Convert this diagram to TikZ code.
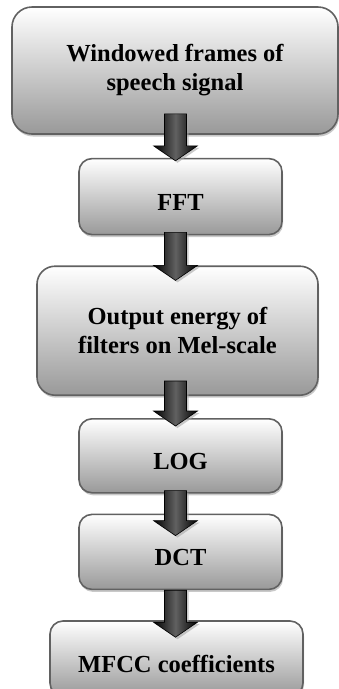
\documentclass[tikz,border=0pt]{standalone}
\usepackage{fontspec}
\setmainfont{Liberation Serif}
\usetikzlibrary{positioning,calc,shadows}

\tikzset{
  stage/.style={draw=black!62, line width=1.6pt, rounded corners=13pt,
    top color=white, bottom color=black!40, align=center,
    font=\fontsize{24.5}{29}\selectfont\bfseries,
    drop shadow={shadow xshift=1pt, shadow yshift=-2.5pt, fill=black!30, opacity=.7}},
  oneline/.style={text height=28pt, text depth=0pt},
  fatarrow/.style={draw=black, line width=.6pt,
    left color=black, right color=black, middle color=black!62,
    drop shadow={shadow xshift=2pt, shadow yshift=-2pt, fill=black!35, opacity=.6},
    to path={let \p1=(\tikztostart), \p2=(\tikztotarget) in
      (\x1-11pt,\y1) -- (\x1+11pt,\y1) -- (\x1+11pt,\y2+15pt) -- (\x1+22pt,\y2+15pt)
      -- (\x1,\y2) -- (\x1-22pt,\y2+15pt) -- (\x1-11pt,\y2+15pt) -- cycle}}
}

\begin{document}
\begin{tikzpicture}[x=1pt, y=-1pt]
  \node[stage, minimum width=326pt, minimum height=127pt, rounded corners=20pt]
    (win) at (175,70.5) {Windowed frames of\\speech signal};
  \node[stage, oneline, minimum width=203pt, minimum height=76pt,
    below=23pt of win, xshift=5.5pt] (fft) {FFT};
  \node[stage, minimum width=281pt, minimum height=129pt, rounded corners=18pt,
    below=30pt of fft, xshift=-3pt] (mel) {Output energy of\\filters on Mel-scale};
  \node[stage, oneline, minimum width=203pt, minimum height=74pt,
    below=22pt of mel, xshift=3pt] (log) {LOG};
  \node[stage, oneline, minimum width=203pt, minimum height=75pt,
    below=20pt of log] (dct) {DCT};
  \node[stage, oneline, minimum width=253pt, minimum height=75pt,
    below=30pt of dct, xshift=-4pt] (mfcc) {MFCC coefficients};

  \coordinate (spine) at (175.5,0);

  \path[fatarrow] ([yshift=21pt]spine |- win.south) to ([yshift=-3pt]spine |- fft.north);
  \path[fatarrow] ([yshift=3pt]spine |- fft.south) to ([yshift=-15pt]spine |- mel.north);
  \path[fatarrow] ([yshift=15pt]spine |- mel.south) to ([yshift=-8pt]spine |- log.north);
  \path[fatarrow] ([yshift=3pt]spine |- log.south) to ([yshift=-22pt]spine |- dct.north);
  \path[fatarrow] (spine |- dct.south) to ([yshift=-17pt]spine |- mfcc.north);

  % page is exactly the frame, shadows and right edge get cut
  \pgfresetboundingbox
  \useasboundingbox (0,0) rectangle (338,689);
\end{tikzpicture}
\end{document}
